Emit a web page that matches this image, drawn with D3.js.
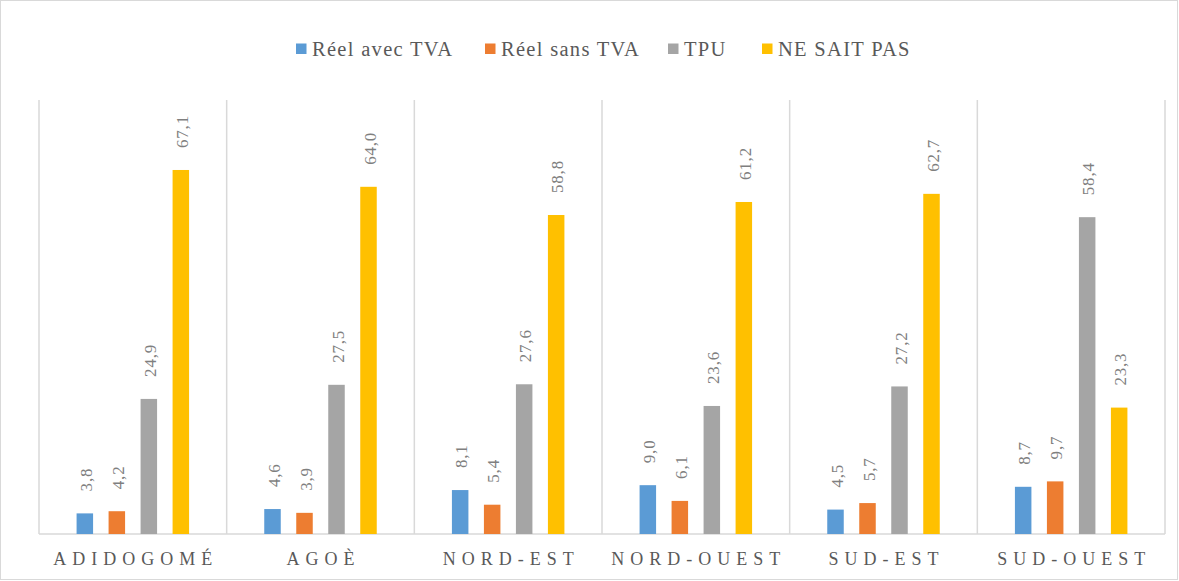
<!DOCTYPE html>
<html><head><meta charset="utf-8">
<script src="https://cdn.jsdelivr.net/npm/d3@7"></script>
</head><body style="margin:0;background:#fff">
<div id="wrap" style="width:1179px;height:581px;overflow:hidden"></div>
<script>
const categories = ["ADIDOGOMÉ","AGOÈ","NORD-EST","NORD-OUEST","SUD-EST","SUD-OUEST"];
const seriesNames = ["Réel avec TVA","Réel sans TVA","TPU","NE SAIT PAS"];
const colors = ["#5b9bd5","#ed7d31","#a5a5a5","#ffc000"];
const reelAvecTVA = [3.8,4.6,8.1,9.0,4.5,8.7];
const reelSansTVA = [4.2,3.9,5.4,6.1,5.7,9.7];
const tpu = [24.9,27.5,27.6,23.6,27.2,58.4];
const neSaitPas = [67.1,64.0,58.8,61.2,62.7,23.3];
const series = [reelAvecTVA, reelSansTVA, tpu, neSaitPas];

const W=1179,H=581;
const m={l:39,r:14,t:100,b:47};
const FONT="Liberation Serif, Times New Roman, DejaVu Serif, serif";
const svg=d3.select("#wrap").append("svg").attr("width",W).attr("height",H)
  .attr("font-family",FONT).style("display","block");

svg.append("rect").attr("x",0.5).attr("y",0.5).attr("width",W-2).attr("height",H-2)
  .attr("fill","#fff").attr("stroke","#d9d9d9");

const x=d3.scaleBand().domain(categories).range([m.l,W-m.r]).padding(0);
const y=d3.scaleLinear().domain([0,80]).range([H-m.b,m.t]);
const bw=16.5, step=32;
const inner=d3.scaleBand().domain(d3.range(4)).range([0,step*4]).paddingInner(0);

// separators
const seps=[...categories.map(c=>x(c)), x(categories[categories.length-1])+x.bandwidth()];
svg.append("g").selectAll("line").data(seps).join("line")
  .attr("x1",d=>d).attr("x2",d=>d).attr("y1",y(80)).attr("y2",y(0))
  .attr("stroke","#d9d9d9").attr("stroke-width",1.5);
svg.append("line").attr("x1",m.l).attr("x2",W-m.r).attr("y1",y(0)).attr("y2",y(0))
  .attr("stroke","#d9d9d9").attr("stroke-width",1.5);

const g=svg.append("g");
series.forEach((vals,si)=>{
  categories.forEach((c,ci)=>{
    const gx=x(c)+(x.bandwidth()-(step*3+bw))/2+inner(si);
    g.append("rect").attr("x",gx).attr("y",y(vals[ci])).attr("width",bw)
      .attr("height",y(0)-y(vals[ci])).attr("fill",colors[si]);
    const tx=gx+bw/2, ty=y(vals[ci])-22;
    g.append("text").attr("transform",`translate(${tx+7},${ty}) rotate(-90)`)
      .attr("font-family",FONT).attr("font-size",17).attr("letter-spacing",0.8).attr("fill","#7f7f7f")
      .text(d3.format(".1f")(vals[ci]).replace(".",","));
  });
});

// category labels
svg.append("g").selectAll("text").data(categories).join("text")
  .attr("x",d=>x(d)+x.bandwidth()/2+3).attr("y",565)
  .attr("text-anchor","middle").attr("font-family",FONT).attr("font-size",18)
  .attr("letter-spacing",6).attr("fill","#595959").text(d=>d);

// legend
const legX=[296,485,668,762];
const lg=svg.append("g");
seriesNames.forEach((n,i)=>{
  lg.append("rect").attr("x",legX[i]).attr("y",43.5).attr("width",10.5).attr("height",10.5).attr("fill",colors[i]);
  lg.append("text").attr("x",legX[i]+16).attr("y",56)
    .attr("font-family",FONT).attr("font-size",20.5).attr("letter-spacing",1.3).attr("fill","#595959").text(n);
});
</script>
</body></html>
